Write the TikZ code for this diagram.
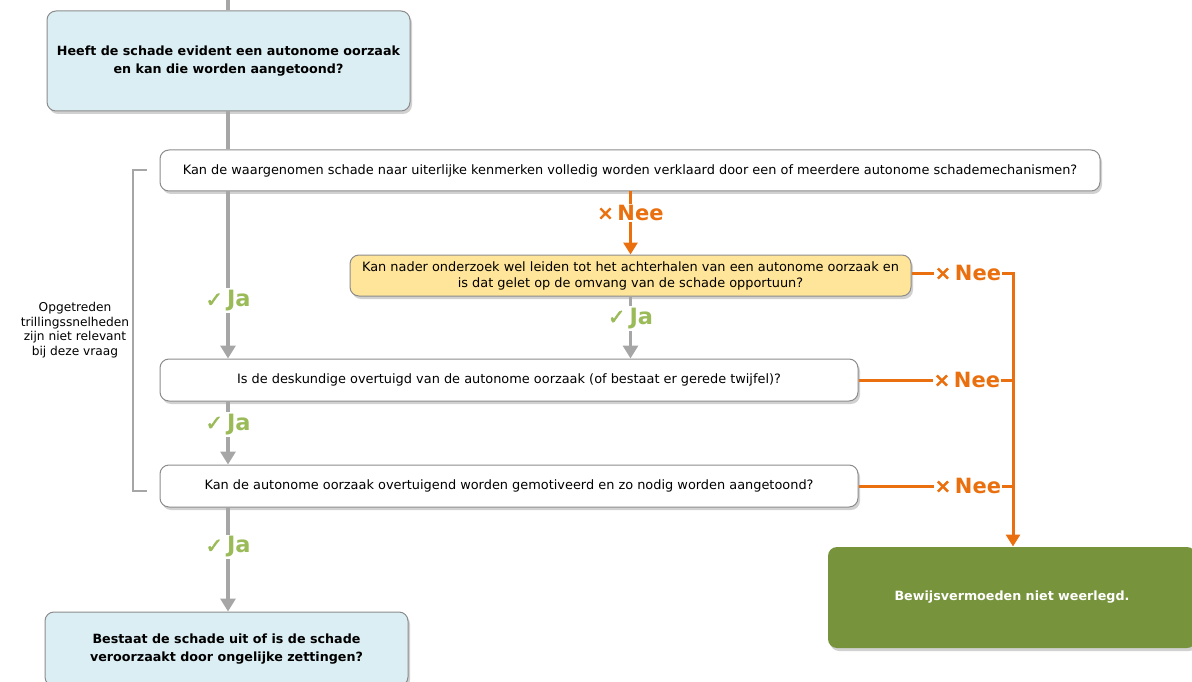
\documentclass[tikz,border=0pt]{standalone}
\usepackage{fontspec}
\setmainfont{DejaVu Sans}
\newfontfamily\tekens[FakeBold=2.5]{DejaVu Sans}
\usetikzlibrary{arrows.meta,shadows}

\definecolor{lichtblauw}{HTML}{DBEEF3}
\definecolor{lichtgeel}{HTML}{FFE599}
\definecolor{olijf}{HTML}{77933C}
\definecolor{jagroen}{HTML}{9BBB59}
\definecolor{neeoranje}{HTML}{EA700F}
\definecolor{lijngrijs}{HTML}{A6A6A6}
\definecolor{randgrijs}{HTML}{8C8C8C}

\newcommand{\vinkje}{{\tekens\fontsize{21}{21}\selectfont ✓}\hspace{4pt}}
\newcommand{\kruisje}{{\tekens\fontsize{19}{19}\selectfont ✕}\hspace{4pt}}

\tikzset{
	vraag/.style={draw=randgrijs, line width=1pt, rounded corners=9pt, fill=white, align=center,
		font=\fontsize{12.9}{16}\selectfont, inner sep=0pt,
		drop shadow={shadow xshift=2pt, shadow yshift=-3pt, opacity=.18, fill=black}},
	kernvraag/.style={vraag, fill=lichtblauw, font=\fontsize{12.7}{18}\selectfont\bfseries},
	onderzoek/.style={vraag, fill=lichtgeel},
	uitkomst/.style={vraag, draw=none, fill=olijf, text=white, font=\fontsize{12.7}{16}\selectfont\bfseries},
	jalijn/.style={draw=lijngrijs, line width=3.5pt},
	neelijn/.style={draw=neeoranje, line width=3pt},
	pijlgrijs/.style={-{Triangle[width=15pt,length=13pt]}},
	pijloranje/.style={-{Triangle[width=14pt,length=12pt]}},
	ja/.style={fill=white, text=jagroen, font=\fontsize{22.5}{24}\selectfont\bfseries, inner sep=2pt},
	nee/.style={fill=white, text=neeoranje, font=\fontsize{21}{22}\selectfont\bfseries, inner sep=1pt},
}

\begin{document}
\begin{tikzpicture}[x=1pt, y=-1pt]
	\useasboundingbox (0,0) rectangle (1192,682) ;

	% vragen
	\node (q0)[kernvraag, minimum width=363pt, minimum height=100pt] at (228.5, 61) {Heeft de schade evident een autonome oorzaak\\en kan die worden aangetoond?} ;
	\node (q1)[vraag, minimum width=940pt, minimum height=41pt] at (630, 170.5) {Kan de waargenomen schade naar uiterlijke kenmerken volledig worden verklaard door een of meerdere autonome schademechanismen?} ;
	\node (q2)[onderzoek, minimum width=561pt, minimum height=41pt] at (630.5, 275.5) {Kan nader onderzoek wel leiden tot het achterhalen van een autonome oorzaak en\\is dat gelet op de omvang van de schade opportuun?} ;
	\node (q3)[vraag, minimum width=698pt, minimum height=42pt] at (509, 380) {Is de deskundige overtuigd van de autonome oorzaak (of bestaat er gerede twijfel)?} ;
	\node (q4)[vraag, minimum width=698pt, minimum height=42pt] at (509, 486) {Kan de autonome oorzaak overtuigend worden gemotiveerd en zo nodig worden aangetoond?} ;
	\node (q5)[kernvraag, minimum width=363pt, minimum height=74pt] at (226.5, 649) {Bestaat de schade uit of is de schade\\veroorzaakt door ongelijke zettingen?} ;
	\node (eind)[uitkomst, minimum width=368pt, minimum height=101pt] at (1012, 597.5) {Bewijsvermoeden niet weerlegd.} ;

	% kanttekening
	\node (opm)[align=center, font=\fontsize{12.2}{14.5}\selectfont] at (75, 330) {Opgetreden\\trillingssnelheden\\zijn niet relevant\\bij deze vraag} ;
	\coordinate (bh) at (147, 170) ;
	\coordinate (bl) at (147, 491) ;
	\draw[lijngrijs, line width=2.5pt] (bh) -- ++(-14,0) |- (bl) ;

	\coordinate (links) at (228, 0) ;
	\coordinate (rail) at (1013, 0) ;
	\coordinate (onder) at (228, 690) ;

	% ja-takken
	\draw[jalijn] (links) -- (q0.north -| links) ;
	\draw[jalijn] (q0.south -| links) -- (q1.north -| links) ;
	\draw[jalijn, pijlgrijs] (q1.south -| links) -- node[ja, pos=.655] (ja1) {\vinkje Ja} (q3.north -| links) ;
	\draw[jalijn, pijlgrijs] (q2.south) -- node[ja, pos=.35] (ja2) {\vinkje Ja} (q3.north -| q2) ;
	\draw[jalijn, pijlgrijs] (q3.south -| links) -- node[ja, pos=.36] (ja3) {\vinkje Ja} (q4.north -| links) ;
	\draw[jalijn, pijlgrijs] (q4.south -| links) -- node[ja, pos=.38] (ja4) {\vinkje Ja} (q5.north -| links) ;
	\draw[jalijn] (q5.south -| links) -- (onder) ;

	% nee-takken
	\draw[neelijn, pijloranje] (q1.south -| q2) -- node[nee, pos=.34] (nee1) {\kruisje Nee} (q2.north) ;
	\node (nee2)[nee] at (968, 273) {\kruisje Nee} ;
	\node (nee3)[nee] at (967, 380) {\kruisje Nee} ;
	\node (nee4)[nee] at (968, 486) {\kruisje Nee} ;
	\draw[neelijn] (q2.east |- nee2) -- (nee2) ;
	\draw[neelijn] (q3.east) -- (nee3) ;
	\draw[neelijn] (q4.east) -- (nee4) ;
	\draw[neelijn] (nee3) -- (nee3 -| rail) ;
	\draw[neelijn] (nee4) -- (nee4 -| rail) ;
	\draw[neelijn, pijloranje] (nee2) -| (eind.north -| rail) ;
\end{tikzpicture}
\end{document}
